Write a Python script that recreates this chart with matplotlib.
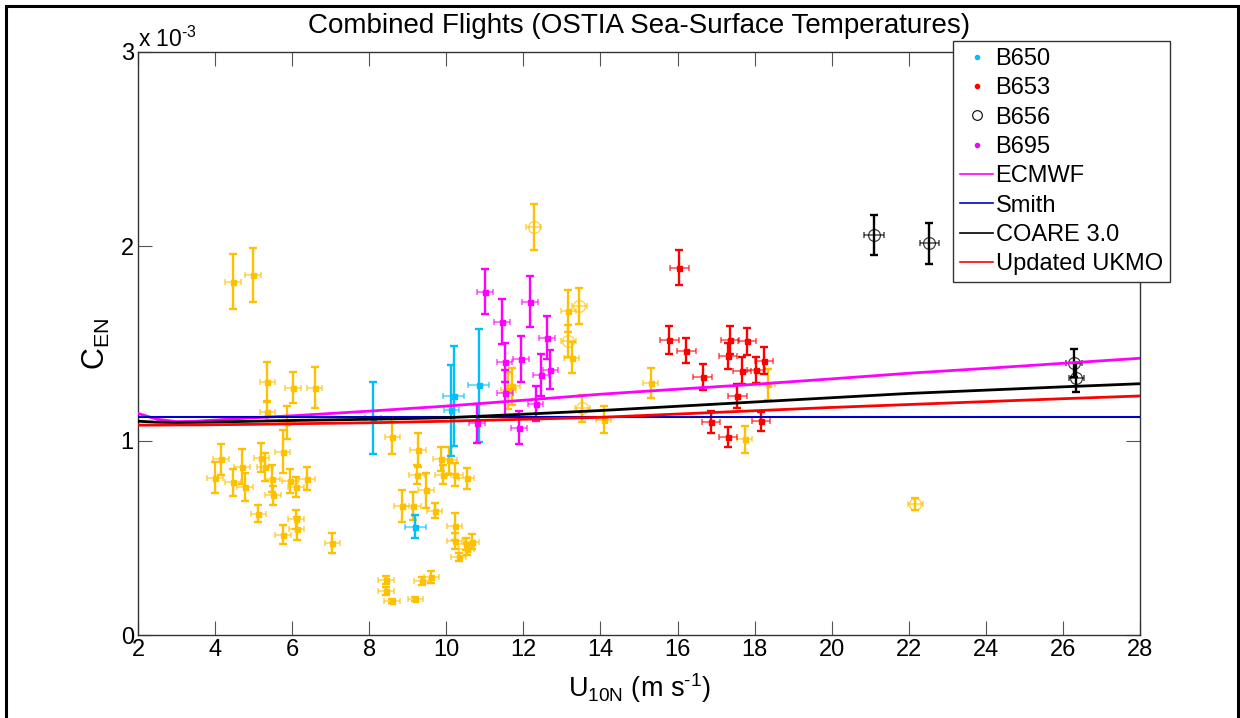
import matplotlib
matplotlib.use('Agg')
import matplotlib.pyplot as plt
from matplotlib.lines import Line2D
from matplotlib.patches import Rectangle
from matplotlib.ticker import FuncFormatter
import numpy as np

plt.rcParams['font.family'] = ['Liberation Sans', 'DejaVu Sans']
plt.rcParams['mathtext.fontset'] = 'custom'
plt.rcParams['mathtext.rm'] = 'Liberation Sans'
plt.rcParams['mathtext.it'] = 'Liberation Sans'
plt.rcParams['mathtext.bf'] = 'Liberation Sans:bold'

SCALE = 1e-3  # y values are stored in units of 10^-3

# ---- other flights (orange, filled) ----
org_x = [4.46, 4.98, 5.36, 5.36, 6.02, 6.58, 5.87, 4.15, 4.00, 4.47, 4.70, 4.78, 5.20, 5.30,
         5.75, 5.49, 5.50, 5.94, 6.10, 6.38, 5.12, 6.10, 6.12, 5.76, 7.04, 8.60, 9.27, 9.24,
         9.47, 8.84, 9.14, 9.86, 10.08, 9.91, 10.23, 10.53, 9.70, 10.22, 10.22, 10.51, 10.66,
         10.32, 10.53, 8.43, 8.43, 8.59, 9.20, 9.36, 9.61, 13.17, 13.25, 11.71, 11.61, 14.08,
         15.30, 18.34, 17.74]
org_y = [1.818, 1.853, 1.304, 1.150, 1.273, 1.273, 1.095, 0.904, 0.810, 0.786, 0.865, 0.762,
         0.913, 0.865, 0.944, 0.805, 0.719, 0.793, 0.762, 0.805, 0.624, 0.595, 0.547, 0.517,
         0.473, 1.020, 0.952, 0.825, 0.746, 0.664, 0.664, 0.906, 0.899, 0.825, 0.825, 0.806,
         0.640, 0.559, 0.484, 0.467, 0.480, 0.403, 0.443, 0.283, 0.228, 0.175, 0.185, 0.278,
         0.299, 1.667, 1.427, 1.280, 1.260, 1.107, 1.297, 1.290, 1.007]
org_yerr = [0.14, 0.14, 0.10, 0.05, 0.08, 0.105, 0.085, 0.08, 0.08, 0.07, 0.09, 0.07, 0.075,
            0.07, 0.11, 0.07, 0.05, 0.06, 0.05, 0.06, 0.045, 0.05, 0.06, 0.05, 0.05, 0.09,
            0.09, 0.05, 0.09, 0.08, 0.07, 0.06, 0.07, 0.05, 0.06, 0.055, 0.04, 0.07, 0.04,
            0.03, 0.04, 0.02, 0.03, 0.02, 0.02, 0.01, 0.01, 0.02, 0.03, 0.11, 0.08, 0.095,
            0.095, 0.07, 0.075, 0.08, 0.07]
org_xerr = 0.2

# ---- other flights (orange, open circles) ----
orgo_x = [12.27, 13.45, 13.17, 13.53, 22.17]
orgo_y = [2.100, 1.693, 1.513, 1.167, 0.673]
orgo_yerr = [0.12, 0.093, 0.08, 0.07, 0.03]

# ---- B650 ----
b650_x = [8.10, 10.84, 10.19, 10.13, 9.20]
b650_y = [1.115, 1.285, 1.230, 1.157, 0.557]
b650_yerr = [0.186, 0.29, 0.256, 0.234, 0.06]
b650_xerr = [0.2, 0.27, 0.27, 0.2, 0.27]

# ---- B653 ----
b653_x = [16.05, 15.79, 16.23, 16.65, 17.36, 17.80, 17.31, 17.67, 18.04, 18.24, 17.55, 16.87,
          17.31, 18.17]
b653_y = [1.890, 1.518, 1.463, 1.328, 1.518, 1.511, 1.436, 1.360, 1.364, 1.412, 1.230, 1.096,
          1.019, 1.100]
b653_yerr = [0.09, 0.073, 0.065, 0.065, 0.07, 0.07, 0.065, 0.07, 0.065, 0.068, 0.06, 0.055,
             0.05, 0.05]
b653_xerr = 0.24

# ---- B656 ----
b656_x = [21.10, 22.53, 26.29, 26.35]
b656_y = [2.060, 2.016, 1.400, 1.324]
b656_yerr = [0.103, 0.105, 0.07, 0.075]
b656_xerr = [0.25, 0.25, 0.2, 0.2]

# ---- B695 ----
b695_x = [11.00, 12.17, 11.45, 12.61, 11.94, 11.51, 11.52, 12.46, 12.70, 12.32, 11.89, 10.80]
b695_y = [1.767, 1.715, 1.612, 1.530, 1.420, 1.403, 1.244, 1.338, 1.364, 1.189, 1.067, 1.090]
b695_yerr = [0.116, 0.13, 0.117, 0.11, 0.117, 0.10, 0.12, 0.11, 0.10, 0.09, 0.085, 0.10]
b695_xerr = 0.2

# ---- parameterisations ----
u_line = [2, 2.5, 3, 3.5, 4, 5, 6, 8, 10, 12, 14, 16, 18, 20, 22, 24, 26, 28]
ecmwf = [1.140, 1.110, 1.098, 1.100, 1.106, 1.118, 1.128, 1.152, 1.178, 1.208, 1.239, 1.265,
         1.290, 1.318, 1.347, 1.372, 1.398, 1.424]
coare = [1.100, 1.095, 1.093, 1.094, 1.096, 1.100, 1.104, 1.110, 1.118, 1.136, 1.155, 1.177,
         1.199, 1.221, 1.243, 1.260, 1.277, 1.293]
ukmo = [1.080, 1.080, 1.081, 1.081, 1.082, 1.084, 1.087, 1.092, 1.100, 1.110, 1.120, 1.137,
        1.154, 1.171, 1.186, 1.201, 1.216, 1.230]
smith_x = [2, 28]
smith = [1.12, 1.12]

xticks = [2, 4, 6, 8, 10, 12, 14, 16, 18, 20, 22, 24, 26, 28]
yticks = [0, 1, 2, 3]

ORANGE = '#FFC000'
CYAN = '#00BFFF'
RED = '#FF0000'
MAG = '#FF00FF'
BLK = '#000000'

fig = plt.figure(figsize=(12.4, 7.18), dpi=100)
ax = fig.add_axes([138/1240, 1-635/718, (1140-138)/1240, (635-52)/718])


def sc(v):
    return np.asarray(v, dtype=float) * SCALE


def draw(x, y, yerr, xerr, color, marker='s', ms=3.6, open_=False):
    x = np.asarray(x, float)
    y = sc(y)
    ye = sc(yerr) if np.ndim(yerr) else yerr * SCALE
    # horizontal error bars (lighter)
    ax.errorbar(x, y, xerr=xerr, fmt='none', ecolor=color, elinewidth=1.4, capsize=2.5,
                capthick=1.4, alpha=0.55, zorder=2)
    # vertical error bars
    ax.errorbar(x, y, yerr=ye, fmt='none', ecolor=color, elinewidth=1.7, capsize=3,
                capthick=1.7, zorder=2)
    if open_:
        ax.plot(x, y, 'o', ms=8.5, mfc='none', mec=color, mew=0.9, alpha=0.75, zorder=2)
    else:
        ax.plot(x, y, marker, ms=ms, color=color, zorder=2)


draw(org_x, org_y, org_yerr, org_xerr, ORANGE)
draw(orgo_x, orgo_y, orgo_yerr, org_xerr, ORANGE, open_=True)
draw(b650_x, b650_y, b650_yerr, b650_xerr, CYAN)
draw(b653_x, b653_y, b653_yerr, b653_xerr, RED)
draw(b656_x, b656_y, b656_yerr, b656_xerr, BLK, open_=True)
draw(b695_x, b695_y, b695_yerr, b695_xerr, MAG)

ax.plot(u_line, sc(ecmwf), color=MAG, lw=2.0, zorder=3)
ax.plot(smith_x, sc(smith), color='#0000CC', lw=1.5, zorder=3)
ax.plot(u_line, sc(coare), color=BLK, lw=2.0, zorder=3)
ax.plot(u_line, sc(ukmo), color=RED, lw=2.0, zorder=3)

ax.set_xlim(2, 28)
ax.set_ylim(0, 3 * SCALE)
ax.set_xticks(xticks)
ax.set_yticks(sc(yticks))
ax.yaxis.set_major_formatter(FuncFormatter(lambda v, p: f'{v / SCALE:g}'))
ax.tick_params(direction='in', length=10, width=0.8, color='#555555', top=True, right=True,
               labelsize=17, pad=3)
for s in ax.spines.values():
    s.set_color('#333333')
    s.set_linewidth(1.0)

ax.text(0.0, 1.0, 'x 10$^{\\mathrm{\u2010}3}$', transform=ax.transAxes, fontsize=16.5,
        ha='left', va='bottom')
ax.set_title('Combined Flights (OSTIA Sea-Surface Temperatures)', fontsize=20, pad=14)
ax.set_xlabel('U$_{\\mathrm{10N}}$ (m s$^{\\mathrm{\u2010}1}$)', fontsize=19.5, labelpad=7)
ax.set_ylabel('C$_{\\mathrm{EN}}$', fontsize=22, labelpad=6)

handles = [
    Line2D([], [], ls='none', marker='.', ms=6, color=CYAN),
    Line2D([], [], ls='none', marker='.', ms=6, color=RED),
    Line2D([], [], ls='none', marker='o', ms=7, mfc='none', mec=BLK, mew=0.8),
    Line2D([], [], ls='none', marker='.', ms=6, color=MAG),
    Line2D([], [], color=MAG, lw=1.2),
    Line2D([], [], color='#0000CC', lw=1.2),
    Line2D([], [], color=BLK, lw=1.2),
    Line2D([], [], color=RED, lw=1.2),
]
labels = ['B650', 'B653', 'B656', 'B695', 'ECMWF', 'Smith', 'COARE 3.0', 'Updated UKMO']
leg = ax.legend(handles, labels, loc='upper left', bbox_to_anchor=(953/1240, 1-41/718),
                bbox_transform=fig.transFigure, borderaxespad=0, fontsize=17,
                handlelength=1.4, handletextpad=0.1, labelspacing=0.31, borderpad=0.3,
                frameon=True, fancybox=False, framealpha=1, edgecolor='#333333')
leg.get_frame().set_linewidth(1.0)
leg.set_zorder(10)

# outer figure frame
fig.patches.append(Rectangle((6/1240, -0.02), (1238-6)/1240, 1.02-6/718,
                             transform=fig.transFigure, fill=False, lw=2.2,
                             edgecolor='black', figure=fig))

fig.savefig('out.png', dpi=100)
